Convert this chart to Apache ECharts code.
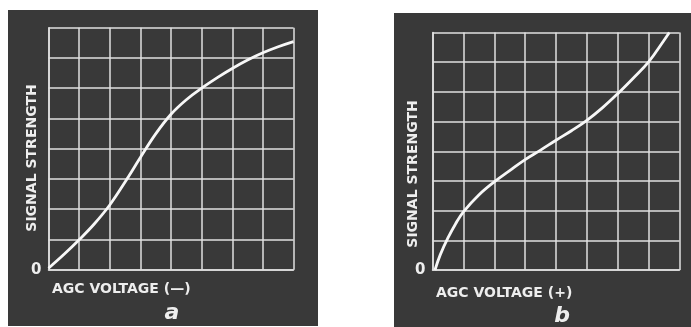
<!DOCTYPE html>
<html>
<head>
<meta charset="utf-8">
<script src="https://cdn.jsdelivr.net/npm/echarts@6/dist/echarts.min.js"></script>
<style>
  html, body { margin: 0; padding: 0; background: #fff; }
  #chart { width: 691px; height: 327px; }
</style>
</head>
<body>
<div id="chart"></div>
<script>
  // curve a: AGC voltage (-) vs signal strength, in grid divisions
  var curveA = [
    [0, 0.05], [0.5, 0.5], [1, 0.99], [1.5, 1.52], [2, 2.14], [2.5, 2.9],
    [3, 3.71], [3.5, 4.49], [4, 5.14], [4.5, 5.62], [5, 6], [5.5, 6.34],
    [6, 6.65], [6.5, 6.93], [7, 7.17], [7.5, 7.37], [8, 7.54]
  ];
  // curve b: AGC voltage (+)
  var curveB = [
    [0.08, 0], [0.25, 0.51], [0.5, 1.08], [0.75, 1.56], [1, 1.96], [1.5, 2.53],
    [2, 2.97], [2.5, 3.35], [3, 3.72], [3.5, 4.04], [4, 4.37], [4.5, 4.69],
    [5, 5.04], [5.5, 5.46], [6, 5.94], [6.5, 6.46], [7, 7.01], [7.5, 7.74], [7.67, 8]
  ];
  var xLabels = ['AGC VOLTAGE (\u2014)', 'AGC VOLTAGE (+)'];
  var yLabel = 'SIGNAL STRENGTH';
  var panelLetters = ['a', 'b'];

  var dark = '#393939';
  var lineCol = '#e0e0e0';
  var font = 'bold 14px "DejaVu Sans", sans-serif';

  function xAxisCfg(idx) {
    return {
      gridIndex: idx, type: 'value', min: 0, max: 8, interval: 1,
      axisLine: { show: true, lineStyle: { color: lineCol, width: 1.5 } },
      axisTick: { show: false },
      axisLabel: { show: false },
      splitLine: { show: true, lineStyle: { color: lineCol, width: 1.5 } }
    };
  }
  function yAxisCfg(idx) {
    return {
      gridIndex: idx, type: 'value', min: 0, max: 8, interval: 1,
      axisLine: { show: true, lineStyle: { color: lineCol, width: 1.5 } },
      axisTick: { show: false },
      axisLabel: {
        show: true, margin: 7, color: '#eee', fontSize: 15, fontWeight: 'bold',
        fontFamily: '"DejaVu Sans", sans-serif',
        formatter: function (v) { return v === 0 ? '0' : ''; }
      },
      splitLine: { show: true, lineStyle: { color: lineCol, width: 1.5 } }
    };
  }

  const myChart = echarts.init(document.getElementById('chart'));
  var option = {
    backgroundColor: '#fff',
    animation: false,
    grid: [
      { left: 48.5, top: 27.7, width: 245, height: 242 },
      { left: 432.5, top: 32.5, width: 247, height: 237.5 }
    ],
    xAxis: [xAxisCfg(0), xAxisCfg(1)],
    yAxis: [yAxisCfg(0), yAxisCfg(1)],
    series: [
      {
        type: 'line', xAxisIndex: 0, yAxisIndex: 0, data: curveA,
        smooth: 0.4, showSymbol: false, symbol: 'none',
        lineStyle: { color: '#f7f7f7', width: 2.8 }
      },
      {
        type: 'line', xAxisIndex: 1, yAxisIndex: 1, data: curveB,
        smooth: 0.4, showSymbol: false, symbol: 'none',
        lineStyle: { color: '#f7f7f7', width: 2.8 }
      }
    ],
    graphic: [
      { type: 'rect', z: -10, silent: true, shape: { x: 8, y: 10, width: 310, height: 316 }, style: { fill: dark } },
      { type: 'rect', z: -10, silent: true, shape: { x: 394, y: 13, width: 297, height: 314 }, style: { fill: dark } },
      { type: 'text', x: 52, y: 289, style: { text: xLabels[0], font: font, fill: '#eee', align: 'left', verticalAlign: 'middle' } },
      { type: 'text', x: 436, y: 293, style: { text: xLabels[1], font: font, fill: '#eee', align: 'left', verticalAlign: 'middle' } },
      { type: 'text', x: 32, y: 158, rotation: Math.PI / 2, style: { text: yLabel, font: font, fill: '#eee', align: 'center', verticalAlign: 'middle' } },
      { type: 'text', x: 413, y: 174, rotation: Math.PI / 2, style: { text: yLabel, font: font, fill: '#eee', align: 'center', verticalAlign: 'middle' } },
      { type: 'text', x: 172, y: 313, style: { text: panelLetters[0], font: 'italic bold 22px "DejaVu Sans", sans-serif', fill: '#eee', align: 'center', verticalAlign: 'middle' } },
      { type: 'text', x: 562, y: 316, style: { text: panelLetters[1], font: 'italic bold 22px "DejaVu Sans", sans-serif', fill: '#eee', align: 'center', verticalAlign: 'middle' } }
    ]
  };
  myChart.setOption(option, true);
</script>
</body>
</html>
